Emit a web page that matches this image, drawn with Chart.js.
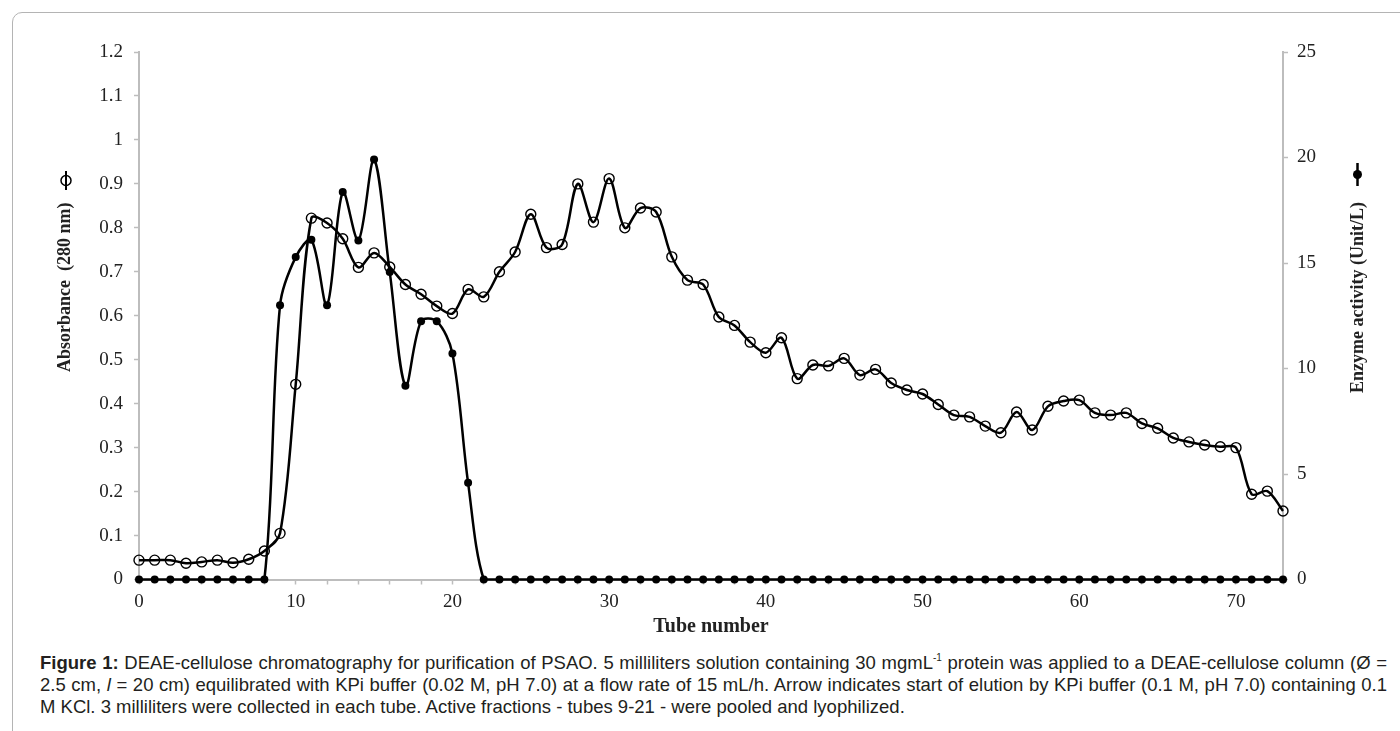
<!DOCTYPE html>
<html>
<head>
<meta charset="utf-8">
<script src="https://cdn.jsdelivr.net/npm/chart.js@4.4.1/dist/chart.umd.min.js"></script>
<style>
  html, body { margin: 0; padding: 0; background: #fff; overflow: hidden; width: 1400px; height: 731px; }
  #frame {
    position: absolute; left: 12px; top: 12px; width: 1500px; height: 800px;
    border: 1.5px solid #b4b4b4; border-radius: 10px; box-sizing: border-box;
  }
  #wrap { position: absolute; left: 0; top: 0; width: 1400px; height: 645px; }
  #caption {
    position: absolute; left: 40px; top: 652px; width: 1347px;
    font-family: "Liberation Sans", Arial, sans-serif; font-size: 18.5px; line-height: 22px; color: #231f20;
  }
  #caption div { white-space: nowrap; }
  #caption .full { text-align: justify; text-align-last: justify; }
  #caption sup { font-size: 10px; vertical-align: 8px; line-height: 0; }
</style>
</head>
<body>
<div id="frame"></div>
<div id="wrap"><canvas id="chart" width="1400" height="645"></canvas></div>
<div id="caption">
  <div class="full"><b>Figure 1:</b> DEAE-cellulose chromatography for purification of PSAO. 5 milliliters solution containing 30 mgmL<sup>-1</sup> protein was applied to a DEAE-cellulose column (Ø =</div>
  <div class="full">2.5 cm, <i>l</i> = 20 cm) equilibrated with KPi buffer (0.02 M, pH 7.0) at a flow rate of 15 mL/h. Arrow indicates start of elution by KPi buffer (0.1 M, pH 7.0) containing 0.1</div>
  <div>M KCl. 3 milliliters were collected in each tube. Active fractions - tubes 9-21 - were pooled and lyophilized.</div>
</div>
<script>
// Tube numbers (fractions collected)
const tubes = [];
for (let t = 0; t <= 73; t++) tubes.push(t);

// Absorbance at 280 nm per tube (left axis)
const absorbance = [
  0.044, 0.044, 0.044, 0.037, 0.040, 0.044, 0.038, 0.046, 0.065, 0.105,
  0.444, 0.822, 0.811, 0.775, 0.710, 0.743, 0.711, 0.671, 0.649, 0.622,
  0.605, 0.660, 0.643, 0.700, 0.745, 0.831, 0.755, 0.762, 0.900, 0.813,
  0.912, 0.800, 0.845, 0.836, 0.734, 0.681, 0.671, 0.597, 0.578, 0.540,
  0.516, 0.550, 0.457, 0.488, 0.486, 0.503, 0.465, 0.478, 0.447, 0.431,
  0.422, 0.398, 0.374, 0.370, 0.349, 0.334, 0.381, 0.340, 0.394, 0.406,
  0.408, 0.379, 0.374, 0.379, 0.355, 0.344, 0.322, 0.313, 0.306, 0.302,
  0.300, 0.194, 0.201, 0.156
];

// Enzyme activity (Unit/L) per tube (right axis)
const activity = [
  0, 0, 0, 0, 0, 0, 0, 0, 0, 13.0,
  15.28, 16.1, 13.0, 18.36, 16.07, 19.9, 14.57, 9.18, 12.24, 12.24,
  10.71, 4.58, 0, 0, 0, 0, 0, 0, 0, 0,
  0, 0, 0, 0, 0, 0, 0, 0, 0, 0,
  0, 0, 0, 0, 0, 0, 0, 0, 0, 0,
  0, 0, 0, 0, 0, 0, 0, 0, 0, 0,
  0, 0, 0, 0, 0, 0, 0, 0, 0, 0,
  0, 0, 0, 0
];

// Axis ranges and tick steps
const xMax = 73, xTickStep = 2, xLabelStep = 10;
const absMax = 1.2, absStep = 0.1;
const actMax = 25, actStep = 5;

// Axis titles
const xTitle = 'Tube number';
const leftTitle = 'Absorbance  (280 nm)';
const rightTitle = 'Enzyme activity (Unit/L)';

const INK = '#000000';
const AXIS = '#bdbdbd';
const TEXT = '#222222';
const tickFont = { family: '"Liberation Serif", "Times New Roman", serif', size: 19 };
const plainNumber = (v) => String(Number(v.toFixed(2)));

// Rotated axis titles with a small series marker, plus the x title
const titlePlugin = {
  id: 'axisTitles',
  afterDraw(chart) {
    const ctx = chart.ctx;
    ctx.save();
    ctx.fillStyle = TEXT;
    ctx.textBaseline = 'middle';

    // x title
    ctx.font = 'bold 20px "Liberation Serif", "Times New Roman", serif';
    ctx.textAlign = 'center';
    ctx.fillText(xTitle, (chart.chartArea.left + chart.chartArea.right) / 2, 627);

    ctx.font = 'bold 18px "Liberation Serif", "Times New Roman", serif';
    // left title (reads bottom to top)
    ctx.save();
    ctx.translate(65, 372);
    ctx.rotate(-Math.PI / 2);
    ctx.textAlign = 'left';
    ctx.fillText(leftTitle, 0, 0);
    ctx.restore();

    // open-circle marker for absorbance
    ctx.strokeStyle = INK;
    ctx.lineWidth = 2;
    ctx.beginPath();
    ctx.moveTo(66, 171);
    ctx.lineTo(66, 190);
    ctx.stroke();
    ctx.lineWidth = 1.5;
    ctx.beginPath();
    ctx.arc(66, 180.5, 5, 0, Math.PI * 2);
    ctx.stroke();

    // right title (reads bottom to top)
    ctx.save();
    ctx.translate(1358, 393);
    ctx.rotate(-Math.PI / 2);
    ctx.textAlign = 'left';
    ctx.fillText(rightTitle, 0, 0);
    ctx.restore();

    // filled-circle marker for enzyme activity
    ctx.lineWidth = 2.5;
    ctx.beginPath();
    ctx.moveTo(1357.5, 163);
    ctx.lineTo(1357.5, 186);
    ctx.stroke();
    ctx.fillStyle = INK;
    ctx.beginPath();
    ctx.arc(1357.5, 174.5, 4.5, 0, Math.PI * 2);
    ctx.fill();

    ctx.restore();
  }
};

const absPoints = tubes.map((t, i) => ({ x: t, y: absorbance[i] }));
const actPoints = tubes.map((t, i) => ({ x: t, y: activity[i] }));

new Chart(document.getElementById('chart'), {
  type: 'line',
  data: {
    datasets: [
      {
        label: 'Absorbance (280 nm)',
        data: absPoints,
        yAxisID: 'y',
        borderColor: INK,
        borderWidth: 2.5,
        tension: 0.33,
        pointStyle: 'circle',
        pointRadius: 5,
        pointBorderWidth: 1.4,
        pointBorderColor: INK,
        pointBackgroundColor: 'rgba(0,0,0,0)',
        clip: false
      },
      {
        label: 'Enzyme activity (Unit/L)',
        data: actPoints,
        yAxisID: 'y1',
        borderColor: INK,
        borderWidth: 2.5,
        tension: 0.33,
        pointStyle: 'circle',
        pointRadius: 4,
        pointBorderWidth: 0,
        pointBackgroundColor: INK,
        clip: false
      }
    ]
  },
  options: {
    responsive: false,
    animation: false,
    devicePixelRatio: 1,
    layout: { padding: { top: 52, left: 0, right: 0, bottom: 0 } },
    plugins: { legend: { display: false }, tooltip: { enabled: false } },
    scales: {
      x: {
        type: 'linear',
        min: 0,
        max: xMax,
        afterFit(scale) { scale.height = 65.5; },
        grid: { drawOnChartArea: false, drawTicks: true, tickLength: 5, tickColor: AXIS, tickWidth: 1.5 },
        border: { display: true, color: AXIS, width: 2 },
        ticks: {
          stepSize: xTickStep,
          autoSkip: false,
          maxRotation: 0,
          padding: 6,
          color: TEXT,
          font: tickFont,
          callback: (v) => (v % xLabelStep === 0 ? String(v) : '')
        }
      },
      y: {
        type: 'linear',
        position: 'left',
        min: 0,
        max: absMax,
        afterFit(scale) { scale.width = 139; },
        grid: { drawOnChartArea: false, drawTicks: true, tickLength: 5, tickColor: AXIS, tickWidth: 1.5 },
        border: { display: true, color: AXIS, width: 2 },
        ticks: { stepSize: absStep, padding: 11, color: TEXT, font: tickFont, callback: plainNumber }
      },
      y1: {
        type: 'linear',
        position: 'right',
        min: 0,
        max: actMax,
        afterFit(scale) { scale.width = 117; },
        grid: { drawOnChartArea: false, drawTicks: true, tickLength: 5, tickColor: AXIS, tickWidth: 1.5 },
        border: { display: true, color: AXIS, width: 2 },
        ticks: { stepSize: actStep, padding: 9, color: TEXT, font: tickFont, callback: plainNumber }
      }
    }
  },
  plugins: [titlePlugin]
});
</script>
</body>
</html>
